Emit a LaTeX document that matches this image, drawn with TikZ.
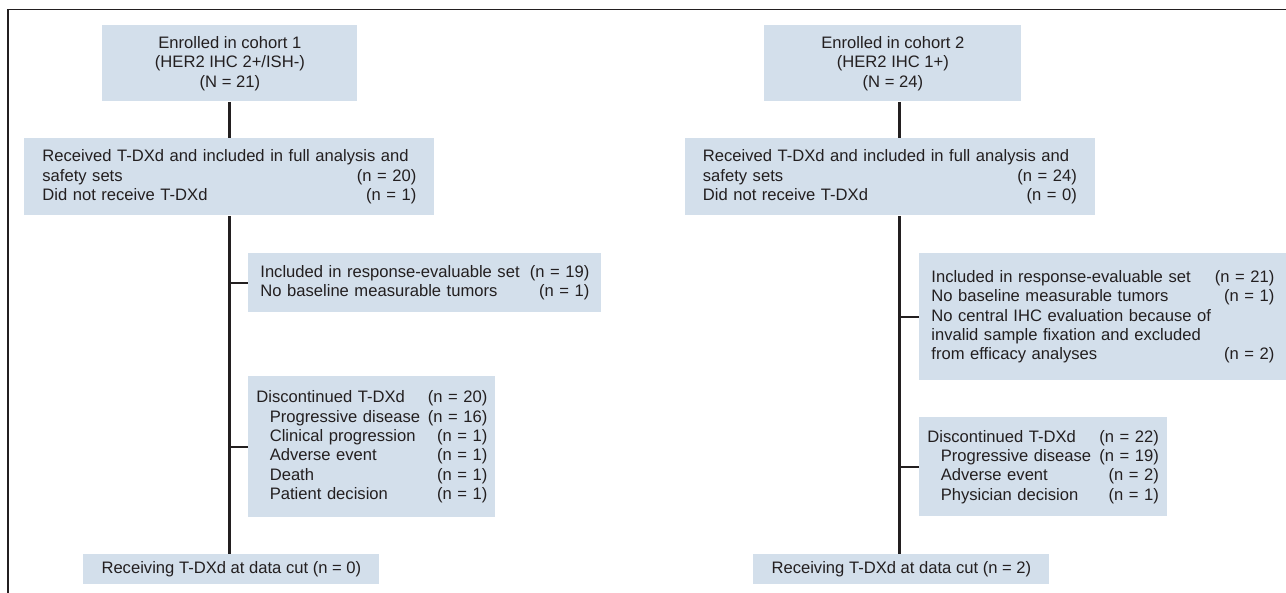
\documentclass[tikz,border=0pt]{standalone}
\usepackage{fontspec}
\setmainfont{Liberation Sans}
\usetikzlibrary{positioning}

\definecolor{boxblue}{RGB}{211,223,235}
\definecolor{ink}{RGB}{35,31,32}

\tikzset{
	flowbox/.style={fill=boxblue, text=ink, anchor=north west, align=left, inner ysep=0pt,
		font=\fontsize{8.3pt}{9.7pt}\selectfont},
	headbox/.style={flowbox, align=center, inner sep=0pt},
	link/.style={draw=ink, line width=1.1pt},
}
\newcommand{\subpad}{\hspace*{6.7pt}}

\begin{document}
\begin{tikzpicture}[x=0.5pt, y=-0.5pt]
\useasboundingbox (0,0) rectangle (1286,593);
\draw[ink, line width=0.7pt] (1286,9.5) -- (8,9.5) -- (8,593);

% cohort 1
\node[headbox, minimum width=127.5pt, minimum height=38pt] (enrol1) at (102,25)
	{Enrolled in cohort 1\\(HER2 IHC 2+/ISH-)\\(N = 21)};
\node[flowbox, text width=187pt, inner xsep=9pt, minimum height=38.5pt] (recv1) at (24,138)
	{\mbox{Received T-DXd and included in full analysis and}\\
	 safety sets\hfill(n = 20)\\
	 Did not receive T-DXd\hfill(n = 1)};
\node[flowbox, text width=164.5pt, inner xsep=6pt, minimum height=29.5pt] (eval1) at (248,253)
	{Included in response-evaluable set\hfill(n = 19)\\
	 No baseline measurable tumors\hfill(n = 1)};
\node[flowbox, text width=115.5pt, inner xsep=4pt, minimum height=70.5pt] (disc1) at (248,376)
	{Discontinued T-DXd\hfill(n = 20)\\
	 \subpad Progressive disease\hfill(n = 16)\\
	 \subpad Clinical progression\hfill(n = 1)\\
	 \subpad Adverse event\hfill(n = 1)\\
	 \subpad Death\hfill(n = 1)\\
	 \subpad Patient decision\hfill(n = 1)};
\node[headbox, minimum width=148pt, minimum height=15pt] (datacut1) at (83,554)
	{Receiving T-DXd at data cut (n = 0)};

% cohort 2
\node[headbox, minimum width=128.5pt, minimum height=38pt] (enrol2) at (764,25)
	{Enrolled in cohort 2\\(HER2 IHC 1+)\\(N = 24)};
\node[flowbox, text width=187pt, inner xsep=9pt, minimum height=38.5pt] (recv2) at (684.5,138)
	{\mbox{Received T-DXd and included in full analysis and}\\
	 safety sets\hfill(n = 24)\\
	 Did not receive T-DXd\hfill(n = 0)};
\node[flowbox, text width=171.5pt, inner xsep=6pt, minimum height=63.5pt] (eval2) at (919,253)
	{Included in response-evaluable set\hfill(n = 21)\\
	 No baseline measurable tumors\hfill(n = 1)\\
	 No central IHC evaluation because of\\
	 invalid sample fixation and excluded\\
	 from efficacy analyses\hfill(n = 2)};
\node[flowbox, text width=115.75pt, inner xsep=4pt, minimum height=49.5pt] (disc2) at (919,417)
	{Discontinued T-DXd\hfill(n = 22)\\
	 \subpad Progressive disease\hfill(n = 19)\\
	 \subpad Adverse event\hfill(n = 2)\\
	 \subpad Physician decision\hfill(n = 1)};
\node[headbox, minimum width=148pt, minimum height=15pt] (datacut2) at (753,554)
	{Receiving T-DXd at data cut (n = 2)};

\coordinate (spine1) at (229.5,0);
\coordinate (spine2) at (899.5,0);

\draw[link] (enrol1.south -| spine1) -- (recv1.north -| spine1);
\draw[link] (recv1.south -| spine1) -- (datacut1.north -| spine1);
\draw[link] (spine1 |- eval1.west) -- (eval1.west);
\draw[link] (spine1 |- disc1.west) -- (disc1.west);

\draw[link] (enrol2.south -| spine2) -- (recv2.north -| spine2);
\draw[link] (recv2.south -| spine2) -- (datacut2.north -| spine2);
\draw[link] (spine2 |- eval2.west) -- (eval2.west);
\draw[link] (spine2 |- disc2.west) -- (disc2.west);
\end{tikzpicture}
\end{document}
